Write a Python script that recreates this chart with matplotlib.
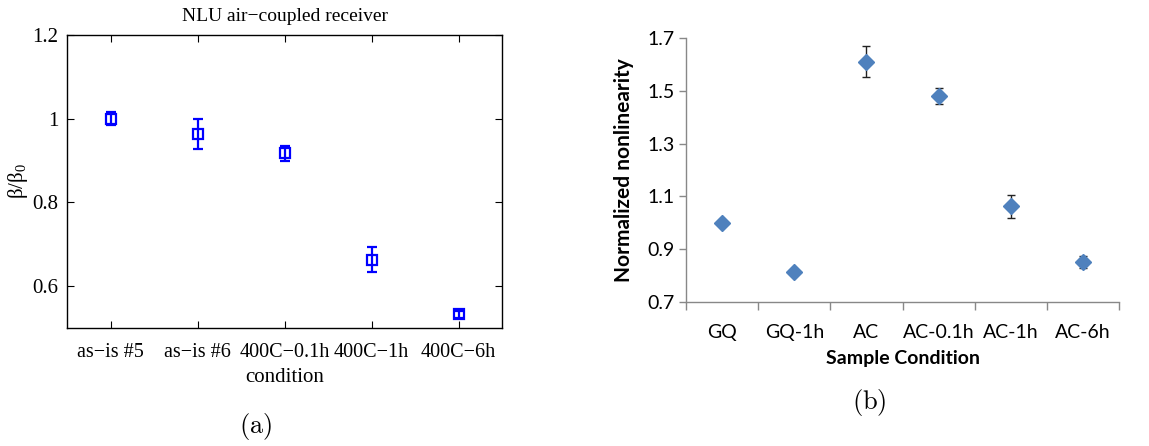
import matplotlib
matplotlib.use("Agg")
import matplotlib.pyplot as plt
import numpy as np

# Panel (a): NLU air-coupled receiver
cond_a = ["as\u2212is #5", "as\u2212is #6", "400C\u22120.1h", "400C\u22121h", "400C\u22126h"]
beta_a = [1.000, 0.963, 0.917, 0.663, 0.533]
err_a = [0.016, 0.036, 0.019, 0.030, 0.008]

# Panel (b): normalized nonlinearity per sample condition
cond_b = ["GQ", "GQ-1h", "AC", "AC-0.1h", "AC-1h", "AC-6h"]
beta_b = [1.001, 0.812, 1.610, 1.480, 1.062, 0.851]
err_b = [0.004, 0.010, 0.059, 0.030, 0.045, 0.022]

plt.rcParams["mathtext.fontset"] = "cm"

fig = plt.figure(figsize=(11.49, 4.46), dpi=100)
W, H = 1149, 446

def px_axes(l, t, r, b):
    return fig.add_axes([l / W, 1 - b / H, (r - l) / W, (b - t) / H])

serif = ["Liberation Serif", "DejaVu Serif"]
sans = ["Lato", "Open Sans", "DejaVu Sans"]

# ---- (a) ----
ax1 = px_axes(67, 35, 502, 328)
x1 = np.arange(1, len(cond_a) + 1)
ax1.errorbar(x1, beta_a, yerr=err_a, fmt="s", color="#0000ff", mfc="none",
             mec="#0000ff", ms=7, mew=1.6, elinewidth=1.6, capsize=3.5, capthick=1.6)
ax1.set_xlim(0.5, len(cond_a) + 0.5)
ax1.set_ylim(0.5, 1.2)
ax1.set_xticks(x1)
ax1.set_xticklabels(cond_a, fontfamily=serif, fontsize=14.5)
ax1.set_yticks([0.6, 0.8, 1.0, 1.2])
ax1.set_yticklabels(["0.6", "0.8", "1", "1.2"], fontfamily=serif, fontsize=15)
ax1.tick_params(direction="in", length=5, width=0.8, top=True, right=True, pad=6)
ax1.tick_params(axis="x", pad=11)
for s in ax1.spines.values():
    s.set_linewidth(1.0)
ax1.set_title("NLU air\u2212coupled receiver", fontfamily=serif, fontsize=14, pad=10)
ax1.set_xlabel("condition", fontfamily=serif, fontsize=15, labelpad=4)
ax1.set_ylabel(r"$\mathregular{\beta/\beta_0}$", fontfamily=serif, fontsize=15, labelpad=2)
fig.text(256 / W, 1 - 427 / H, r"$\mathrm{(a)}$", ha="center", va="center", fontsize=19)

# ---- (b) ----
ax2 = px_axes(686, 38, 1119, 302)
x2 = np.arange(1, len(cond_b) + 1)
ax2.errorbar(x2, beta_b, yerr=err_b, fmt="D", color="#4f81bd", mec="#4f81bd",
             ms=8.3, ecolor="#222222", elinewidth=1.0, capsize=3.2, capthick=1.0, zorder=3)
ax2.set_xlim(0.5, len(cond_b) + 0.5)
ax2.set_ylim(0.7, 1.7)
ax2.set_yticks(np.arange(0.7, 1.71, 0.2))
ax2.set_yticklabels([f"{v:.1f}" for v in np.arange(0.7, 1.71, 0.2)], fontfamily=sans, fontsize=14)
ax2.set_xticks(np.arange(0.5, len(cond_b) + 1, 1.0))
ax2.set_xticklabels([])
ax2.set_xticks(x2, minor=True)
ax2.set_xticklabels(cond_b, minor=True, fontfamily=sans, fontsize=14)
ax2.tick_params(axis="x", which="major", direction="out", length=6, width=1.0, color="#888888")
ax2.tick_params(axis="x", which="minor", length=0, pad=16)
ax2.tick_params(axis="y", direction="out", length=5, width=1.0, color="#888888", pad=3)
for side in ("top", "right"):
    ax2.spines[side].set_visible(False)
for side in ("left", "bottom"):
    ax2.spines[side].set_color("#888888")
    ax2.spines[side].set_linewidth(1.0)
ax2.set_xlabel("Sample Condition", fontfamily=sans, fontsize=14, fontweight="bold", labelpad=6)
ax2.set_ylabel("Normalized nonlinearity", fontfamily=sans, fontsize=15, fontweight="bold", labelpad=10)
fig.text(869 / W, 1 - 403 / H, r"$\mathrm{(b)}$", ha="center", va="center", fontsize=19)

fig.savefig("out.png", dpi=100, facecolor="white")
